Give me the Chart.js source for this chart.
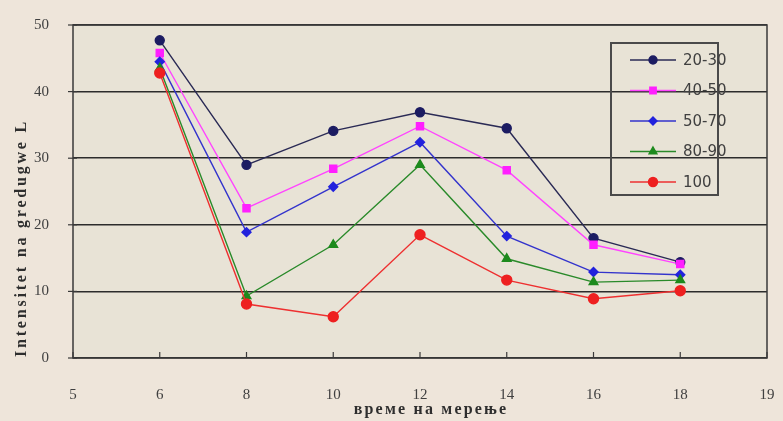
<!DOCTYPE html>
<html><head><meta charset="utf-8">
<script src="https://cdn.jsdelivr.net/npm/chart.js@4"></script>
<style>html,body{margin:0;padding:0;background:#eee5da;overflow:hidden}</style>
</head><body>
<canvas id="c" width="783" height="421"></canvas>
<script>
const categories = ['5','6','8','10','12','14','16','18','19'];
const seriesNames = ['20-30','40-50','50-70','80-90','100'];
const s2030 = [null, 47.7, 29.0, 34.1, 36.9, 34.5, 18.0, 14.4, null];
const s4050 = [null, 45.8, 22.5, 28.4, 34.8, 28.2, 17.0, 14.1, null];
const s5070 = [null, 44.5, 18.9, 25.7, 32.4, 18.3, 12.9, 12.5, null];
const s8090 = [null, 43.5, 9.3, 17.0, 29.0, 14.9, 11.4, 11.7, null];
const s100  = [null, 42.8, 8.1, 6.2, 18.5, 11.7, 8.9, 10.1, null];
const yMin = 0, yMax = 50, yStep = 10;
const xTitle = 'време на мерење';
const yTitle = 'Intensitet na gredugwe L';

const seriesValues = [s2030, s4050, s5070, s8090, s100];
const colors = ['#1c1c62', '#ff1fff', '#2222dd', '#1d8a1d', '#ee2020'];
const lineColors = ['#2a2a55', '#ff44ff', '#3333cc', '#2a8a2a', '#ee3030'];
const pStyles = ['circle', 'rect', 'rectRot', 'triangle', 'circle'];
const pRadius = [4.5, 5, 4.5, 5, 5];
const textColor = '#404040';
const serif = '"Liberation Serif", "DejaVu Serif", serif';

const datasets = seriesNames.map((n, i) => ({
  label: n,
  data: seriesValues[i],
  borderColor: lineColors[i],
  backgroundColor: colors[i],
  pointBackgroundColor: colors[i],
  pointBorderColor: colors[i],
  pointStyle: pStyles[i],
  pointRadius: pRadius[i],
  borderWidth: 1.4,
  tension: 0,
  spanGaps: false,
  order: seriesNames.length - i
}));

const decor = {
  id: 'decor',
  beforeDraw(chart) {
    const {ctx, chartArea: a} = chart;
    ctx.save();
    ctx.fillStyle = '#eee5da';
    ctx.fillRect(0, 0, chart.width, chart.height);
    ctx.fillStyle = '#e8e3d6';
    ctx.fillRect(a.left, a.top, a.right - a.left, a.bottom - a.top);
    ctx.restore();
  },
  beforeDatasetsDraw(chart) {
    const {ctx, chartArea: a, scales} = chart;
    ctx.save();
    ctx.strokeStyle = '#3a3a3a';
    ctx.lineWidth = 1.5;
    ctx.strokeRect(a.left, a.top, a.right - a.left, a.bottom - a.top);
    ctx.lineWidth = 1.2;
    categories.forEach((c, i) => {
      const x = scales.x.getPixelForValue(i);
      ctx.beginPath(); ctx.moveTo(x, a.bottom); ctx.lineTo(x, a.bottom - 6); ctx.stroke();
    });
    for (let v = yMin; v <= yMax; v += yStep) {
      const y = scales.y.getPixelForValue(v);
      ctx.beginPath(); ctx.moveTo(a.left - 5, y); ctx.lineTo(a.left + 4, y); ctx.stroke();
    }
    ctx.restore();
  },
  afterDatasetsDraw(chart) {
    const {ctx} = chart;
    ctx.save();
    ctx.strokeStyle = '#4a4a4a';
    ctx.lineWidth = 2;
    ctx.strokeRect(611, 43, 107, 152);
    chart.data.datasets.forEach((ds, i) => {
      const y = 60 + i * 30.5;
      ctx.strokeStyle = ds.borderColor;
      ctx.lineWidth = 1.4;
      ctx.beginPath(); ctx.moveTo(630, y); ctx.lineTo(676, y); ctx.stroke();
      ctx.fillStyle = ds.pointBackgroundColor;
      ctx.strokeStyle = ds.pointBorderColor;
      Chart.helpers.drawPoint(ctx, {pointStyle: ds.pointStyle, radius: ds.pointRadius - 0.5, borderWidth: 1, rotation: 0}, 653, y);
      ctx.fillStyle = textColor;
      ctx.font = '15px "DejaVu Sans", sans-serif';
      ctx.textAlign = 'left';
      ctx.textBaseline = 'middle';
      ctx.fillText(ds.label, 683, y + 1);
    });
    ctx.restore();
  },
  afterDraw(chart) {
    const {ctx} = chart;
    ctx.save();
    ctx.fillStyle = '#2e2e2e';
    ctx.font = 'bold 16px ' + serif;
    if ('letterSpacing' in ctx) ctx.letterSpacing = '2.2px';
    ctx.textAlign = 'center';
    ctx.textBaseline = 'middle';
    ctx.fillText(xTitle, 431, 410);
    ctx.translate(22, 357);
    ctx.rotate(-Math.PI / 2);
    ctx.textAlign = 'left';
    if ('letterSpacing' in ctx) ctx.letterSpacing = '2.8px';
    ctx.fillText(yTitle, 0, 0);
    ctx.restore();
  }
};

new Chart(document.getElementById('c'), {
  type: 'line',
  data: {labels: categories, datasets},
  plugins: [decor],
  options: {
    responsive: false,
    devicePixelRatio: 1,
    animation: false,
    layout: {padding: {top: 25, right: 16, left: 0, bottom: 0}},
    plugins: {legend: {display: false}, tooltip: {enabled: false}},
    scales: {
      x: {
        type: 'category',
        offset: false,
        grid: {display: false, drawTicks: false},
        border: {display: false},
        ticks: {padding: 28, autoSkip: false, maxRotation: 0, color: textColor, font: {family: serif, size: 15}},
        afterFit(s) { s.height = 63; s.paddingLeft = 0; s.paddingRight = 0; }
      },
      y: {
        min: yMin, max: yMax,
        grid: {color: '#2c2c2c', lineWidth: 1.5, drawTicks: false},
        border: {display: false},
        ticks: {stepSize: yStep, padding: 24, color: textColor, font: {family: serif, size: 15}},
        afterFit(s) { s.width = 73; s.paddingTop = 0; s.paddingBottom = 0; }
      }
    }
  }
});
</script>
</body></html>
